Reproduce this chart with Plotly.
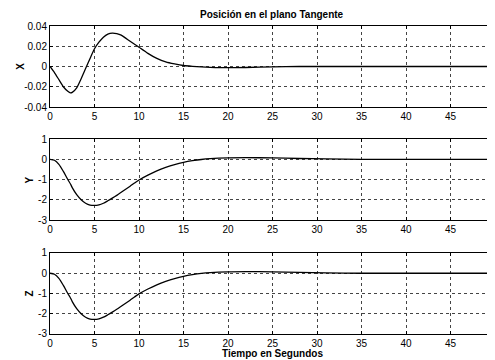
import plotly.graph_objects as go
from plotly.subplots import make_subplots

t = [0, 0.5, 1, 1.5, 2, 2.3, 2.5, 3, 3.5, 4, 4.5, 5, 5.5, 6, 6.5, 7, 7.5, 8, 8.5, 9, 9.5,
     10, 11, 12, 13, 14, 15, 16, 17, 18, 20, 22, 25, 28, 31, 35, 40, 45, 50]
x_vals = [0, -0.006, -0.013, -0.020, -0.0245, -0.026, -0.0255, -0.021, -0.012, -0.002, 0.008,
          0.0175, 0.024, 0.029, 0.032, 0.033, 0.0325, 0.031, 0.028, 0.025, 0.022,
          0.019, 0.013, 0.008, 0.0045, 0.0025, 0.001, 0.0002, -0.0004, -0.0008, -0.0012, -0.001,
          -0.0003, 0, 0, 0, 0, 0, 0]
y_vals = [0, -0.05, -0.25, -0.6, -1.0, -1.22, -1.4, -1.75, -2.0, -2.17, -2.26,
          -2.28, -2.25, -2.17, -2.05, -1.92, -1.78, -1.63, -1.48, -1.33, -1.17,
          -1.02, -0.78, -0.57, -0.40, -0.26, -0.15, -0.07, -0.01, 0.03, 0.07, 0.08,
          0.07, 0.04, 0.02, 0.0, 0, 0, 0]
z_vals = [0, -0.05, -0.25, -0.6, -1.0, -1.22, -1.4, -1.75, -2.0, -2.17, -2.26,
          -2.28, -2.25, -2.17, -2.05, -1.92, -1.78, -1.63, -1.48, -1.33, -1.17,
          -1.02, -0.78, -0.57, -0.40, -0.26, -0.15, -0.07, -0.01, 0.03, 0.07, 0.08,
          0.07, 0.04, 0.02, 0.0, 0, 0, 0]

x_ticks = [0, 5, 10, 15, 20, 25, 30, 35, 40, 45, 50]
x_tick_text = ["0", "5", "10", "15", "20", "25", "30", "35", "40", "45", "50"]
tick_x_panel = [-0.04, -0.02, 0, 0.02, 0.04]
tick_x_panel_text = ["-0.04", "-0.02", "0", "0.02", "0.04"]
tick_yz_panel = [-3, -2, -1, 0, 1]
tick_yz_panel_text = ["-3", "-2", "-1", "0", "1"]

title = "Posición en el plano Tangente"
xlabel = "Tiempo en Segundos"
ylabels = ["X", "Y", "Z"]

fig = make_subplots(rows=3, cols=1)
for i, vals in enumerate([x_vals, y_vals, z_vals]):
    fig.add_trace(go.Scatter(x=t, y=vals, mode="lines", line=dict(color="black", width=1.3, shape="spline", smoothing=0.6),
                             showlegend=False), row=i + 1, col=1)

font = dict(family="Liberation Sans, Arial, sans-serif", size=10, color="black")
domains = [[0.737, 1.0], [0.370, 0.633], [0.0, 0.263]]
ranges = [[-0.04, 0.04], [-3, 1], [-3, 1]]
ytv = [tick_x_panel, tick_yz_panel, tick_yz_panel]
ytt = [tick_x_panel_text, tick_yz_panel_text, tick_yz_panel_text]
ylab_x = [-0.067, -0.045, -0.047]
for i in range(3):
    n = "" if i == 0 else str(i + 1)
    fig.layout["xaxis" + n].update(range=[0, 50], tickvals=x_ticks, ticktext=x_tick_text, domain=[0, 1],
                                   showline=True, linecolor="black", linewidth=1, mirror="ticks",
                                   ticks="inside", ticklen=3, tickcolor="black", automargin=False,
                                   showgrid=True, gridcolor="#444", griddash="dot", gridwidth=1,
                                   zeroline=False, tickfont=font)
    fig.layout["yaxis" + n].update(range=ranges[i], tickvals=ytv[i], ticktext=ytt[i], domain=domains[i],
                                   showline=True, linecolor="black", linewidth=1, mirror="ticks",
                                   ticks="inside", ticklen=3, tickcolor="black", automargin=False,
                                   showgrid=True, gridcolor="#444", griddash="dot", gridwidth=1,
                                   zeroline=False, tickfont=font)
    fig.add_annotation(text="<b>" + ylabels[i] + "</b>", xref="paper", yref="paper",
                       x=ylab_x[i], y=sum(domains[i]) / 2, textangle=-90, showarrow=False,
                       font=font, xanchor="center", yanchor="middle")

fig.add_annotation(text="<b>" + xlabel + "</b>", xref="paper", yref="paper", x=0.499, y=-0.064,
                   showarrow=False, font=font, xanchor="center", yanchor="middle")
fig.add_annotation(text="<b>" + title + "</b>", xref="paper", yref="paper", x=0.499, y=1.036,
                   showarrow=False, font=font, xanchor="center", yanchor="middle")
# the page body has an 8px margin, so the figure is sized to end exactly at the window edge
fig.update_layout(
    width=487, height=352,
    margin=dict(l=42, r=0, t=18, b=26, autoexpand=False),
    paper_bgcolor="white", plot_bgcolor="white",
    font=font,
)
fig.write_html("out.html")
